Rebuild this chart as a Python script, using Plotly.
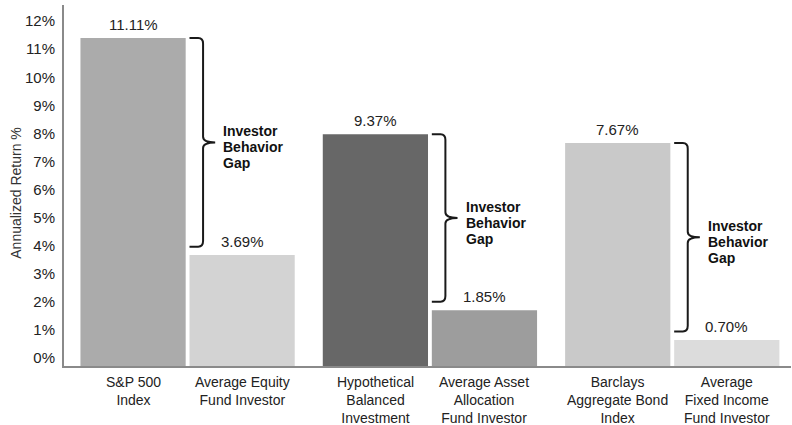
import plotly.graph_objects as go

# ---- data ----
benchmarks = ["S&P 500<br>Index", "Hypothetical<br>Balanced<br>Investment", "Barclays<br>Aggregate Bond<br>Index"]
investors = ["Average Equity<br>Fund Investor", "Average Asset<br>Allocation<br>Fund Investor", "Average<br>Fixed Income<br>Fund Investor"]
# bar heights as drawn in the reference (% annualized return)
bench_heights = [11.68, 8.26, 7.94]
investor_heights = [3.95, 1.99, 0.93]
# printed value labels
bench_labels = ["11.11%", "9.37%", "7.67%"]
investor_labels = ["3.69%", "1.85%", "0.70%"]
bench_colors = ["#ababab", "#676767", "#c9c9c9"]
investor_colors = ["#d3d3d3", "#9d9d9d", "#dcdcdc"]
y_ticks = list(range(0, 13))
gap_lines = ["Investor", "Behavior", "Gap"]

FONT = "Liberation Sans, Arial, Helvetica, sans-serif"
BARGAP = 0.10
GROUPGAP = 0.035
W = 1 - BARGAP
groups = list(range(len(benchmarks)))

fig = go.Figure()
fig.add_bar(x=groups, y=bench_heights, marker=dict(color=bench_colors, line=dict(width=0)),
            offsetgroup="b", showlegend=False, hoverinfo="skip")
fig.add_bar(x=groups, y=investor_heights, marker=dict(color=investor_colors, line=dict(width=0)),
            offsetgroup="i", showlegend=False, hoverinfo="skip")

annotations = []
shapes = []
half = W / 4  # center offset of each bar within its group
for i in groups:
    for sign, name, h, lab in [(-1, benchmarks[i], bench_heights[i], bench_labels[i]),
                               (1, investors[i], investor_heights[i], investor_labels[i])]:
        xc = i + sign * half
        # value label
        annotations.append(dict(x=xc, y=h, xref="x", yref="y", text=lab, showarrow=False,
                                yanchor="bottom", yshift=3,
                                font=dict(family=FONT, size=15, color="#222")))
        # category label
        annotations.append(dict(x=xc, y=0, xref="x", yref="y", text=name, showarrow=False,
                                yanchor="top", yshift=-6, align="center",
                                font=dict(family=FONT, size=14, color="#222")))
    # bracket
    top = bench_heights[i]
    bot = investor_heights[i] + 0.3
    mid = (top + bot) / 2
    x0 = i + (W / 2) * GROUPGAP / 2
    xv = x0 + 0.056
    rx = 0.02
    ry = 0.2
    t = 0.05
    path = (f"M {x0},{top} L {xv-rx},{top} Q {xv},{top} {xv},{top-ry} "
            f"L {xv},{mid+ry} Q {xv},{mid} {xv+t},{mid} Q {xv},{mid} {xv},{mid-ry} "
            f"L {xv},{bot+ry} Q {xv},{bot} {xv-rx},{bot} L {x0},{bot}")
    shapes.append(dict(type="path", path=path, xref="x", yref="y",
                       line=dict(color="#1a1a1a", width=2)))
    for k, line in enumerate(gap_lines):
        annotations.append(dict(x=xv + 0.076, y=mid, xref="x", yref="y", text=line,
                                showarrow=False, xanchor="left", yanchor="middle", align="left",
                                yshift=-5 + (1 - k) * 16,
                                font=dict(family=FONT, size=14, color="#111", weight="bold")))

# y axis title
annotations.append(dict(x=-0.066, y=0.48, xref="paper", yref="paper", text="Annualized Return %",
                        textangle=-90, showarrow=False, xanchor="center", yanchor="middle",
                        font=dict(family=FONT, size=14, color="#333")))

fig.update_layout(
    width=792, height=425,
    margin=dict(l=64, r=1, t=5, b=59),
    paper_bgcolor="white", plot_bgcolor="white",
    barmode="group", bargap=BARGAP, bargroupgap=GROUPGAP,
    xaxis=dict(range=[-0.51, len(groups) - 0.51], showticklabels=False, showgrid=False,
               zeroline=False, showline=True, linecolor="#8a8a8a", linewidth=2, ticks=""),
    yaxis=dict(range=[0, 12.86], tickvals=y_ticks, ticktext=[f"{v}%" for v in y_ticks],
               showgrid=False, zeroline=False, showline=True, linecolor="#8a8a8a", linewidth=2,
               ticks="", ticklabelshift=-8, ticklabelstandoff=4,
               tickfont=dict(family=FONT, size=15, color="#222")),
    annotations=annotations,
    shapes=shapes,
)

fig.write_html("out.html", config={"displayModeBar": False},
               post_script="document.body.style.margin='0';")
